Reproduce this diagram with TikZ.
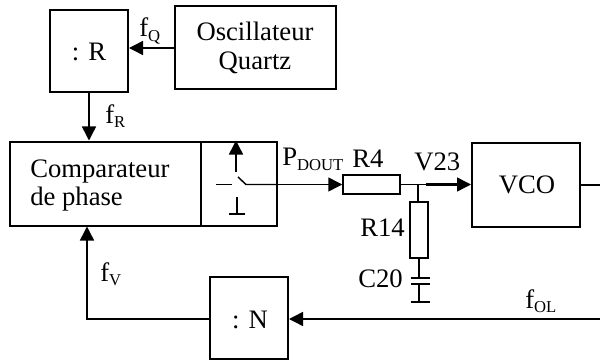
\documentclass[tikz,border=0pt]{standalone}
\usepackage{fontspec}
\setmainfont{Liberation Serif}
\usetikzlibrary{arrows.meta}
\newcommand{\lbl}[2]{#1\raisebox{-3.4pt}{\fontsize{12.5}{13}\selectfont #2}}
\tikzset{
  x=0.75pt,y=-0.75pt,
  box/.style={draw=black,line width=1.5pt,inner sep=0pt,fill=white},
  wire/.style={draw=black,line width=1.1pt},
  flow/.style={wire,-{Triangle[length=10.5pt,width=10.5pt]}},
  txt/.style={font=\fontsize{20}{22}\selectfont,inner sep=0pt,align=center,text=black},
}
\begin{document}
\begin{tikzpicture}
\useasboundingbox (0,0) rectangle (600,360);
\node[box,minimum width=58.5pt,minimum height=61.5pt] (R) at (89,51) {};
\node[box,minimum width=120.75pt,minimum height=62.25pt] (Q) at (255.5,48) {};
\node[box,minimum width=200.25pt,minimum height=63pt] (C) at (143.5,183.5) {};
\node[box,minimum width=57pt,minimum height=63pt] (S) at (239,183.5) {};
\node[box,minimum width=81pt,minimum height=63pt] (V) at (526,185) {};
\node[box,minimum width=58.5pt,minimum height=61.5pt] (N) at (249,318) {};
\node[box,line width=1.1pt,minimum width=42.75pt,minimum height=14.25pt] (R4) at (371.5,184.5) {};
\node[box,line width=1.1pt,minimum width=13.5pt,minimum height=42pt] (R14) at (419,230) {};

\node[txt,anchor=base] at (89,61) {: R};
\node[txt,anchor=base] at (255,41) {Oscillateur};
\node[txt,anchor=base] at (255,70) {Quartz};
\node[txt,anchor=base west] at (30,177) {Comparateur};
\node[txt,anchor=base west] at (30,205) {de phase};
\node[txt,anchor=base] at (527,193) {VCO};
\node[txt,anchor=base] at (250,328) {: N};
\node[txt,anchor=base west] at (139,37) {\lbl{f}{Q}};
\node[txt,anchor=base west] at (105,123) {\lbl{f}{R}};
\node[txt,anchor=base west] at (100,281) {\lbl{f}{V}};
\node[txt,anchor=base west] at (525,308) {\lbl{f}{OL}};
\node[txt,anchor=base west] at (282,166) {\lbl{P}{DOUT}};
\node[txt,anchor=base west] at (352,167) {R4};
\node[txt,anchor=base west] at (414,171) {V23};
\node[txt,anchor=base west] at (360,236) {R14};
\node[txt,anchor=base west] at (358,287) {C20};

\coordinate (qin) at (R.east|-Q.west);
\draw[flow] (Q.west) -- (qin);
\draw[flow] (R.south) -- (R.south|-C.north);
\coordinate (nleft) at (87,319);
\draw[flow] (N.west|-nleft) -- (nleft) -- (nleft|-C.south);
\coordinate (olin) at (600,319);
\draw[flow] (olin) -- (N.east|-olin);
\coordinate (vout) at (600,185);
\draw[wire] (V.east) -- (vout);
\coordinate (sw) at (246,184.5);
\coordinate (swt) at (238,177);
\draw[wire] (swt) -- (sw) -- (S.east|-sw);
\coordinate (swl) at (216,184.5); \coordinate (swl2) at (232,184.5);
\draw[wire] (swl) -- (swl2);
\coordinate (up) at (236,172);
\draw[flow] (up) -- (up|-S.north);
\coordinate (g1) at (237,197); \coordinate (g2) at (237,214);
\coordinate (g3) at (229,214); \coordinate (g4) at (245,214);
\draw[wire] (g1) -- (g2); \draw[wire] (g3) -- (g4);
\coordinate (po) at (278,184.5);
\draw[flow] (po) -- (R4.west);
\coordinate (j) at (418,184);
\draw[flow] (R4.east) -- (V.west|-R4.east);
\coordinate (j2) at (426,184.5);
\draw[draw=black,line width=1.8pt] (j2) -- (458,184.5);
\draw[wire] (j) -- (R14.north-|j);
\coordinate (c1) at (419,278); \coordinate (c2) at (419,284); \coordinate (c3) at (419,302);
\draw[wire] (R14.south) -- (c1);
\draw[wire] (c2) -- (c3);
\coordinate (p1) at (411,278); \coordinate (p2) at (430,278);
\coordinate (p3) at (411,284); \coordinate (p4) at (430,284);
\coordinate (p5) at (411,302); \coordinate (p6) at (430,302);
\draw[wire] (p1) -- (p2);
\draw[wire] (p3) -- (p4);
\draw[wire] (p5) -- (p6);
\end{tikzpicture}
\end{document}
